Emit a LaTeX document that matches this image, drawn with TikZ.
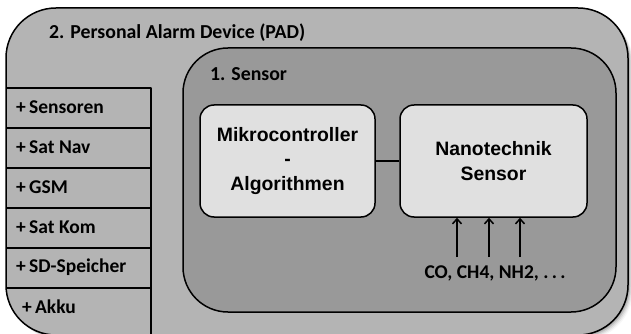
\documentclass[tikz,border=0pt]{standalone}
\usepackage{fontspec}
\setmainfont{Carlito}
\newfontfamily\arialfont{Liberation Sans}
\usetikzlibrary{arrows.meta}
\definecolor{outerfill}{RGB}{180,180,180}
\definecolor{innerfill}{RGB}{153,153,153}
\definecolor{boxfill}{RGB}{224,224,224}
\begin{document}
\begin{tikzpicture}[x=1pt,y=-1pt, line join=round,
  lbl/.style={font=\bfseries\fontsize{19.8}{22}\selectfont, anchor=west, inner sep=0},
  item/.style={font=\bfseries\fontsize{19.5}{22}\selectfont, anchor=west, inner sep=0},
  blk/.style={draw=black, line width=1.5pt, fill=boxfill, rounded corners=14pt, align=center,
    font=\arialfont\bfseries\fontsize{19.4}{24.5}\selectfont, inner sep=0},
  frame/.style={draw=black, line width=1.5pt},
  cell/.style={draw=black, line width=1.2pt, fill=outerfill},
  gasarrow/.style={line width=1.5pt, -{Straight Barb[length=5pt,width=9pt,line width=1.5pt]}},
]
\useasboundingbox (0,0) rectangle (631,334);
\fill[white] (0,0) rectangle (631,334);
% soft shadow
\foreach \i/\o in {1/0.14,2/0.11,3/0.08,4/0.05,5/0.03}{
  \fill[black, opacity=\o, rounded corners=50pt] (6+\i,8+\i) rectangle (628+\i,335+\i);
}
% outer PAD shape
\fill[outerfill, rounded corners=50pt] (6,8) rectangle (628,335);
\begin{scope}
  \clip[rounded corners=50pt] (6,8) rectangle (628,335);
  \foreach \i in {0,...,4}{
    \draw[cell] (6,88+40*\i) rectangle (151,128+40*\i);
  }
  \draw[cell] (6,288) rectangle (151,345);
\end{scope}
\draw[frame, rounded corners=50pt] (6,8) rectangle (628,335);
\node[lbl] (padlabel) at (49,33) {2. Personal Alarm Device (PAD)};
\node[item] (i1) at (16,107) {+\,Sensoren};
\node[item] (i2) at (16,147) {+\,Sat Nav};
\node[item] (i3) at (16,187) {+\,GSM};
\node[item] (i4) at (16,227) {+\,Sat Kom};
\node[item] (i5) at (16,267) {+\,SD-Speicher};
\node[item] (i6) at (22,307) {+\,Akku};
% inner sensor shape
\draw[frame, fill=innerfill, rounded corners=45pt] (183,48) rectangle (616,312);
\node[lbl] (senslabel) at (210,74) {1. Sensor};
% blocks
\node[blk, minimum width=175pt, minimum height=112pt] (mc) at (287.5,161)
  {Mikrocontroller\\-\\Algorithmen};
\node[blk, minimum width=187pt, minimum height=112pt] (ns) at (493.5,161)
  {Nanotechnik\\Sensor};
\draw[line width=1.2pt] (mc.east) -- (ns.west);
% gas arrows
\coordinate (g1) at (457,257);
\coordinate (g2) at (489,257);
\coordinate (g3) at (520,257);
\foreach \g in {g1,g2,g3}{
  \draw[gasarrow] (\g) -- (\g |- ns.south);
}
\node[font=\bfseries\fontsize{19.5}{22}\selectfont, inner sep=0] (gas) at (495,273) {CO, CH4, NH2, .\,.\,.};
\end{tikzpicture}
\end{document}
